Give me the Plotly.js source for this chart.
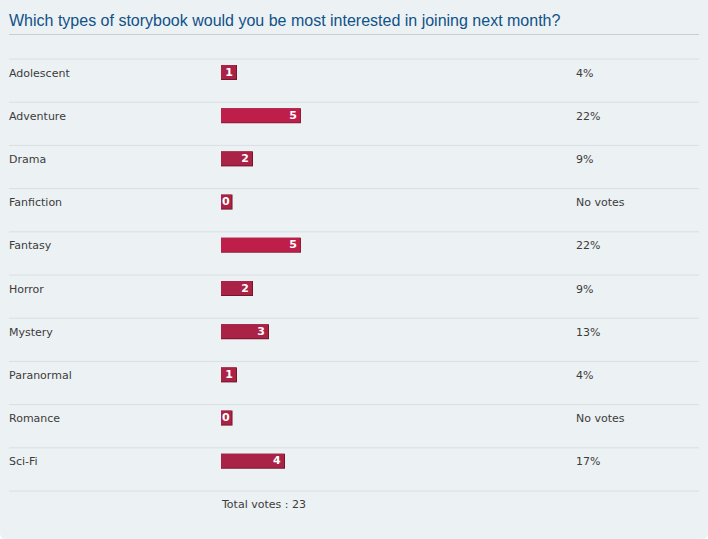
<!DOCTYPE html>
<html>
<head>
<meta charset="utf-8">
<script src="https://cdn.plot.ly/plotly-3.0.1.min.js"></script>
<style>
html,body{margin:0;padding:0;background:#ffffff;}
#chart{width:708px;height:539px;}
</style>
</head>
<body>
<div id="chart"></div>
<script>
const pollTitle = 'Which types of storybook would you be most interested in joining next month?';
const categories = ['Adolescent','Adventure','Drama','Fanfiction','Fantasy','Horror','Mystery','Paranormal','Romance','Sci-Fi'];
const votes = [1, 5, 2, 0, 5, 2, 3, 1, 0, 4];
const totalVotes = 23;
const totalLabel = 'Total votes : ' + totalVotes;

const W = 708, H = 539;
const rowH = 43.2;       // px per row
const firstCenter = 72.5; // px, centre of first bar
const x0px = 221;        // px where value 0 sits
const pxPerVote = 16;

const pct = votes.map(v => v / totalVotes * 100);
const pctLabels = votes.map((v, i) => v === 0 ? 'No votes' : Math.round(pct[i]) + '%');
const barLen = votes.map(v => Math.max(v, 0.72));
const barColors = pct.map(p => p < 20 ? '#AA2346' : '#BE1E4A');
const edgeColors = pct.map(p => p < 20 ? '#74162C' : '#8C1C38');

const yTop = -firstCenter / rowH;
const yBot = (H - firstCenter) / rowH;

const labelFont = {family: 'DejaVu Sans, Verdana, sans-serif', size: 11, color: '#3c3c3c'};
const barTextFont = {family: 'DejaVu Sans, Verdana, sans-serif', size: 11, color: '#ffffff', weight: 'bold'};

const annotations = [];
categories.forEach((c, i) => {
  annotations.push({xref: 'paper', x: 9 / W, yref: 'y', y: i, text: c, showarrow: false,
    xanchor: 'left', yanchor: 'middle', font: labelFont, xshift: -2, yshift: -0.5});
  annotations.push({xref: 'paper', x: 576 / W, yref: 'y', y: i, text: pctLabels[i], showarrow: false,
    xanchor: 'left', yanchor: 'middle', font: labelFont, xshift: -2, yshift: -0.5});
  if (votes[i] === 0) {
    annotations.push({xref: 'x', x: (barLen[i] - 1 / pxPerVote) / 2, yref: 'y', y: i, text: String(votes[i]),
      showarrow: false, xanchor: 'center', yanchor: 'middle', font: barTextFont, yshift: 0.5});
  }
});
annotations.push({xref: 'x', x: 0, yref: 'y', y: categories.length, text: totalLabel, showarrow: false,
  xanchor: 'left', yanchor: 'middle', font: labelFont, xshift: -2});

const shapes = [];
shapes.push({type: 'line', xref: 'paper', yref: 'paper', x0: 9 / W, x1: 699 / W,
  y0: 1 - 34.5 / H, y1: 1 - 34.5 / H, line: {color: '#CCCCCC', width: 1}});
for (let i = 0; i <= categories.length; i++) {
  const y = i - 13.5 / rowH;
  shapes.push({type: 'line', xref: 'paper', yref: 'y', x0: 9 / W, x1: 699 / W,
    y0: y, y1: y, line: {color: '#D9DEE2', width: 1}});
}
// rounded bottom corners of the panel
const r = 6;
function px(x) { return x / W; }
function py(y) { return 1 - y / H; }
shapes.push({type: 'path', xref: 'paper', yref: 'paper', layer: 'above', line: {width: 0}, fillcolor: '#ffffff',
  path: `M ${px(W)} ${py(H - r)} L ${px(W)} ${py(H)} L ${px(W - r)} ${py(H)} Q ${px(W)} ${py(H)} ${px(W)} ${py(H - r)} Z`});
shapes.push({type: 'path', xref: 'paper', yref: 'paper', layer: 'above', line: {width: 0}, fillcolor: '#ffffff',
  path: `M 0 ${py(H - r)} L 0 ${py(H)} L ${px(r)} ${py(H)} Q 0 ${py(H)} 0 ${py(H - r)} Z`});

const yIdx = categories.map((c, i) => i);

const edgeTrace = {
  type: 'bar', orientation: 'h',
  x: barLen, y: yIdx,
  marker: {color: edgeColors, line: {width: 0}},
  width: 15 / rowH,
  hoverinfo: 'skip'
};

const trace = {
  type: 'bar',
  orientation: 'h',
  x: barLen.map(v => v - 1 / pxPerVote),
  y: yIdx,
  text: votes.map(String),
  textposition: votes.map(v => v === 0 ? 'none' : 'inside'),
  insidetextanchor: 'end',
  constraintext: 'none',
  textangle: 0,
  textfont: barTextFont,
  marker: {color: barColors, line: {width: 0}},
  width: 14 / rowH,
  offset: -7.5 / rowH,
  hoverinfo: 'skip'
};

const layout = {
  width: W, height: H,
  margin: {l: 0, r: 0, t: 0, b: 0, pad: 0},
  paper_bgcolor: '#ECF1F3',
  plot_bgcolor: 'rgba(0,0,0,0)',
  showlegend: false,
  barmode: 'overlay',
  title: {text: pollTitle, x: 9 / W, xanchor: 'left', xref: 'paper', y: 1 - 20 / H, yanchor: 'middle', yref: 'paper',
    font: {family: 'Liberation Sans Narrow, Arial Narrow, Liberation Sans, Arial, sans-serif', size: 16, color: '#105289'}},
  xaxis: {range: [-x0px / pxPerVote, (W - x0px) / pxPerVote], showgrid: false, zeroline: false,
    showticklabels: false, ticks: '', fixedrange: true},
  yaxis: {range: [yBot, yTop], showgrid: false, zeroline: false, showticklabels: false, ticks: '', fixedrange: true},
  shapes: shapes,
  annotations: annotations
};

Plotly.newPlot('chart', [edgeTrace, trace], layout, {displayModeBar: false, staticPlot: true});
</script>
</body>
</html>
